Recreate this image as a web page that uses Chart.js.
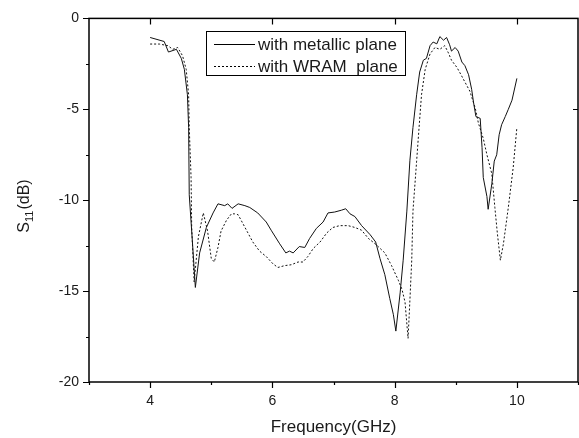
<!DOCTYPE html>
<html>
<head>
<meta charset="utf-8">
<script src="https://cdn.jsdelivr.net/npm/chart.js@4.4.0/dist/chart.umd.min.js"></script>
<style>
  html, body { margin: 0; padding: 0; background: #fff; }
  #wrap { width: 579px; height: 438px; }
</style>
</head>
<body>
<div id="wrap"><canvas id="s11Chart" width="579" height="438"></canvas></div>
<script>
// S11 readings taken off the measured plot (GHz / dB)
const freqMetal = [4.00, 4.23, 4.30, 4.43, 4.51, 4.56, 4.61, 4.63, 4.64, 4.69, 4.74, 4.81, 4.92, 5.03, 5.11, 5.22, 5.27, 5.34, 5.44, 5.55,
    5.63, 5.76, 5.90, 5.98, 6.12, 6.22, 6.28, 6.34, 6.44, 6.53, 6.61, 6.72, 6.83, 6.91, 7.02, 7.13, 7.20, 7.27, 7.35, 7.46,
    7.60, 7.69, 7.76, 7.84, 7.92, 7.98, 8.02, 8.09, 8.14, 8.20, 8.25, 8.30, 8.36, 8.41, 8.47, 8.52, 8.58, 8.63, 8.69, 8.74,
    8.80, 8.85, 8.90, 8.93, 8.99, 9.04, 9.10, 9.15, 9.21, 9.26, 9.29, 9.33, 9.40, 9.43, 9.45, 9.51, 9.53, 9.59, 9.63, 9.67,
    9.71, 9.75, 9.81, 9.86, 9.92, 10.00];
const s11Metal = [-1.05, -1.27, -1.85, -1.7, -2.2, -2.8, -4.2, -6.0, -9.7, -12.2, -14.8, -12.9, -11.5, -10.7, -10.2, -10.3, -10.2, -10.45, -10.2, -10.3,
    -10.4, -10.7, -11.2, -11.65, -12.4, -12.9, -12.8, -12.9, -12.55, -12.6, -12.1, -11.55, -11.2, -10.7, -10.65, -10.55, -10.47, -10.75, -10.9, -11.4,
    -11.9, -12.3, -13.2, -14.1, -15.4, -16.3, -17.2, -15.1, -13.3, -10.6, -7.8, -6.0, -4.2, -2.95, -2.3, -2.2, -1.5, -1.3, -1.4, -1.0,
    -1.2, -1.05, -1.45, -1.8, -1.6, -1.8, -2.4, -2.6, -3.1, -3.9, -4.6, -5.4, -5.5, -7.1, -8.75, -9.8, -10.5, -9.1, -7.85, -7.5,
    -6.4, -5.85, -5.4, -5.0, -4.5, -3.3];

const freqWram = [4.00, 4.15, 4.29, 4.37, 4.45, 4.53, 4.59, 4.63, 4.64, 4.67, 4.68, 4.72, 4.79, 4.87, 4.94, 5.00, 5.05, 5.11, 5.16, 5.25,
    5.33, 5.38, 5.44, 5.52, 5.60, 5.68, 5.79, 5.90, 6.01, 6.09, 6.20, 6.31, 6.42, 6.50, 6.58, 6.67, 6.78, 6.89, 6.99, 7.10,
    7.24, 7.35, 7.46, 7.57, 7.70, 7.84, 7.95, 8.06, 8.12, 8.17, 8.22, 8.25, 8.28, 8.30, 8.36, 8.40, 8.44, 8.50, 8.58, 8.66,
    8.74, 8.82, 8.88, 8.93, 9.02, 9.07, 9.15, 9.23, 9.32, 9.37, 9.45, 9.51, 9.59, 9.64, 9.68, 9.73, 9.78, 9.86, 9.94, 10.00];
const s11Wram = [-1.41, -1.41, -1.5, -1.7, -1.6, -2.05, -2.8, -4.2, -6.0, -8.75, -11.5, -14.5, -12.0, -10.7, -11.7, -13.2, -13.4, -12.6, -11.7, -11.1,
    -10.75, -10.75, -10.8, -11.3, -11.8, -12.3, -12.8, -13.1, -13.5, -13.7, -13.6, -13.55, -13.4, -13.4, -13.1, -12.65, -12.3, -11.8, -11.5, -11.4,
    -11.4, -11.5, -11.65, -12.1, -12.45, -12.9, -13.6, -14.4, -14.9, -15.6, -17.6, -15.5, -13.3, -10.6, -7.85, -6.0, -4.2, -2.8, -1.95, -1.6,
    -1.7, -1.5, -1.9, -2.3, -2.7, -3.0, -3.5, -4.0, -4.95, -5.75, -6.6, -7.5, -8.55, -10.4, -11.8, -13.3, -12.4, -10.4, -8.2, -6.0];

const xTickLabels = [4, 6, 8, 10];
const yTickLabels = [0, -5, -10, -15, -20];
const seriesNames = ['with metallic plane', 'with WRAM  plane'];

const FONT = "'Liberation Sans', Arial, sans-serif";
const INK = '#1a1a1a';

const toPoints = (xs, ys) => xs.map((x, i) => ({ x: x, y: ys[i] }));

// frame, tick marks, y title with subscript and the boxed legend
const decorPlugin = {
    id: 'decor',
    afterDraw(chart) {
        const { ctx, chartArea: a, scales: { x, y } } = chart;
        ctx.save();
        ctx.strokeStyle = '#000';
        ctx.lineWidth = 1.5;
        ctx.strokeRect(a.left, a.top, a.right - a.left, a.bottom - a.top);

        ctx.lineWidth = 1.2;
        ctx.beginPath();
        for (let v = 3; v <= 11; v++) {
            const px = Math.round(x.getPixelForValue(v)) + 0.5;
            const major = xTickLabels.includes(v);
            ctx.moveTo(px, a.bottom);
            ctx.lineTo(px, a.bottom + (major ? 6 : 3));
            if (major) {
                ctx.moveTo(px, a.top);
                ctx.lineTo(px, a.top + 6);
            }
        }
        for (let v = -20; v <= 0; v += 2.5) {
            const py = Math.round(y.getPixelForValue(v)) + 0.5;
            const major = yTickLabels.includes(v);
            ctx.moveTo(a.left, py);
            ctx.lineTo(a.left - (major ? 6 : 3), py);
            if (major && v !== 0 && v !== -20) {
                ctx.moveTo(a.right, py);
                ctx.lineTo(a.right - 5, py);
            }
        }
        ctx.stroke();

        // y axis title: S with subscript 11
        ctx.fillStyle = INK;
        ctx.translate(29, 206);
        ctx.rotate(-Math.PI / 2);
        const big = '16px ' + FONT, small = '11px ' + FONT;
        ctx.font = big;
        const wS = ctx.measureText('S').width;
        const wRest = ctx.measureText('(dB)').width;
        ctx.font = small;
        const wSub = ctx.measureText('11').width;
        let tx = -(wS + wSub + wRest + 1) / 2;
        ctx.textBaseline = 'alphabetic';
        ctx.textAlign = 'left';
        ctx.font = big;
        ctx.fillText('S', tx, 0);
        tx += wS;
        ctx.font = small;
        ctx.fillText('11', tx, 4);
        tx += wSub + 1;
        ctx.font = big;
        ctx.fillText('(dB)', tx, 0);
        ctx.setTransform(1, 0, 0, 1, 0, 0);

        // legend box
        ctx.lineWidth = 1;
        ctx.strokeStyle = '#000';
        ctx.strokeRect(206.5, 31.5, 199, 44);
        const rows = [44, 66];
        chart.data.datasets.forEach((ds, i) => {
            ctx.beginPath();
            ctx.setLineDash(ds.borderDash || []);
            ctx.lineWidth = 1;
            ctx.moveTo(214, rows[i] + 0.5);
            ctx.lineTo(255, rows[i] + 0.5);
            ctx.stroke();
            ctx.setLineDash([]);
            ctx.font = '17px ' + FONT;
            ctx.fillStyle = INK;
            ctx.textBaseline = 'middle';
            ctx.fillText(ds.label, 258, rows[i] + 1);
        });
        ctx.restore();
    }
};

new Chart(document.getElementById('s11Chart'), {
    type: 'line',
    data: {
        datasets: [{
            label: seriesNames[0],
            data: toPoints(freqMetal, s11Metal),
            borderColor: '#111',
            borderWidth: 1,
            pointRadius: 0,
            tension: 0,
            fill: false
        }, {
            label: seriesNames[1],
            data: toPoints(freqWram, s11Wram),
            borderColor: '#111',
            borderWidth: 1,
            borderDash: [2, 2],
            pointRadius: 0,
            tension: 0,
            fill: false
        }]
    },
    options: {
        responsive: false,
        devicePixelRatio: 1,
        animation: false,
        layout: { padding: { top: 14, right: 1, left: 0, bottom: 0 } },
        plugins: {
            legend: { display: false },
            tooltip: { enabled: false }
        },
        scales: {
            x: {
                type: 'linear',
                min: 3,
                max: 11,
                afterFit: (s) => { s.height = 56; },
                afterBuildTicks: (s) => { s.ticks = xTickLabels.map(v => ({ value: v })); },
                grid: { display: false, drawTicks: false },
                border: { display: false },
                ticks: {
                    padding: 11,
                    color: INK,
                    font: { family: FONT, size: 14 },
                    maxRotation: 0
                },
                title: {
                    display: true,
                    text: 'Frequency(GHz)',
                    color: INK,
                    font: { family: FONT, size: 17 },
                    padding: { top: 0, bottom: 0 }
                }
            },
            y: {
                type: 'linear',
                min: -20,
                max: 0,
                afterFit: (s) => { s.width = 89; },
                afterBuildTicks: (s) => { s.ticks = yTickLabels.map(v => ({ value: v })); },
                grid: { display: false, drawTicks: false },
                border: { display: false },
                ticks: {
                    padding: 10,
                    color: INK,
                    font: { family: FONT, size: 14 }
                }
            }
        }
    },
    plugins: [decorPlugin]
});
</script>
</body>
</html>
